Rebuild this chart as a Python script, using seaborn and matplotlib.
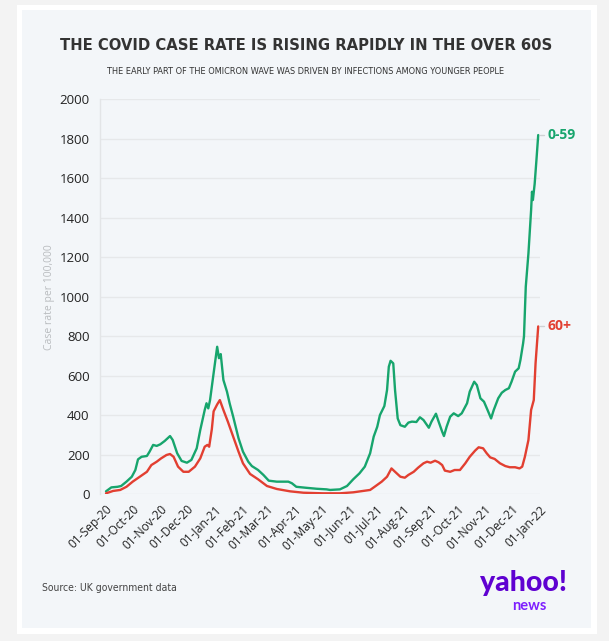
import matplotlib
matplotlib.use("Agg")
import matplotlib.pyplot as plt
import matplotlib.dates as mdates
from matplotlib.patches import Rectangle
import pandas as pd
import seaborn as sns

# ---------------- data ----------------
dates_young = [
    "2020-09-01", "2020-09-07", "2020-09-14", "2020-09-18", "2020-09-24", "2020-09-30",
    "2020-10-04", "2020-10-07", "2020-10-11", "2020-10-17", "2020-10-20", "2020-10-24",
    "2020-10-28", "2020-11-01", "2020-11-06", "2020-11-12", "2020-11-15", "2020-11-20",
    "2020-11-25", "2020-12-01", "2020-12-06", "2020-12-12", "2020-12-16", "2020-12-21",
    "2020-12-23", "2020-12-25", "2020-12-27", "2020-12-31", "2021-01-04", "2021-01-06",
    "2021-01-08", "2021-01-11", "2021-01-15", "2021-01-18", "2021-01-22", "2021-01-28",
    "2021-02-02", "2021-02-08", "2021-02-12", "2021-02-19", "2021-02-25", "2021-03-03",
    "2021-03-12", "2021-03-25", "2021-03-29", "2021-04-03", "2021-04-14", "2021-04-26",
    "2021-05-07", "2021-05-11", "2021-05-22", "2021-05-30", "2021-06-06", "2021-06-13",
    "2021-06-19", "2021-06-25", "2021-06-29", "2021-07-03", "2021-07-06", "2021-07-11",
    "2021-07-14", "2021-07-16", "2021-07-18", "2021-07-21", "2021-07-23", "2021-07-26",
    "2021-07-29", "2021-08-03", "2021-08-07", "2021-08-11", "2021-08-16", "2021-08-20",
    "2021-08-24", "2021-08-30", "2021-09-02", "2021-09-07", "2021-09-10", "2021-09-14",
    "2021-09-16", "2021-09-19", "2021-09-23", "2021-09-27", "2021-10-02", "2021-10-06",
    "2021-10-12", "2021-10-15", "2021-10-20", "2021-10-23", "2021-10-27", "2021-10-31",
    "2021-11-04", "2021-11-08", "2021-11-11", "2021-11-16", "2021-11-20", "2021-11-24",
    "2021-11-28", "2021-12-01", "2021-12-05", "2021-12-09", "2021-12-11", "2021-12-14",
    "2021-12-15", "2021-12-17", "2021-12-20", "2021-12-23", "2021-12-24", "2021-12-25",
    "2021-12-27", "2021-12-29", "2021-12-31",
]
rate_young = [
    15, 35, 38, 42, 64, 89,
    123, 177, 190, 194, 216, 250,
    245, 253, 270, 295, 275, 208,
    169, 160, 174, 233, 326, 427,
    461, 435, 477, 613, 747, 689,
    710, 579, 520, 461, 393, 284,
    216, 165, 143, 123, 98, 69,
    64, 64, 56, 38, 33, 28,
    25, 22, 25, 42, 76, 106,
    140, 208, 292, 342, 401, 447,
    528, 646, 676, 663, 528, 384,
    350, 342, 363, 368, 366, 390,
    376, 337, 368, 408, 368, 317,
    295, 342, 393, 410, 396, 410,
    461, 520, 570, 553, 486, 469,
    427, 384, 427, 486, 514, 528,
    537, 570, 621, 638, 680, 764,
    800, 1051, 1220, 1439, 1532, 1490,
    1572, 1693, 1819,
]

dates_old = [
    "2020-09-01", "2020-09-09", "2020-09-17", "2020-09-24", "2020-10-01", "2020-10-09",
    "2020-10-17", "2020-10-22", "2020-10-28", "2020-11-02", "2020-11-08", "2020-11-12",
    "2020-11-16", "2020-11-21", "2020-11-27", "2020-12-03", "2020-12-10", "2020-12-16",
    "2020-12-21", "2020-12-24", "2020-12-26", "2020-12-29", "2020-12-31", "2021-01-04",
    "2021-01-07", "2021-01-11", "2021-01-16", "2021-01-22", "2021-01-28", "2021-02-02",
    "2021-02-10", "2021-02-19", "2021-03-01", "2021-03-12", "2021-03-27", "2021-04-11",
    "2021-05-03", "2021-05-22", "2021-06-06", "2021-06-25", "2021-06-30", "2021-07-08",
    "2021-07-14", "2021-07-19", "2021-07-23", "2021-07-29", "2021-08-03", "2021-08-07",
    "2021-08-13", "2021-08-18", "2021-08-24", "2021-08-28", "2021-09-01", "2021-09-06",
    "2021-09-10", "2021-09-14", "2021-09-17", "2021-09-23", "2021-09-28", "2021-10-04",
    "2021-10-10", "2021-10-15", "2021-10-21", "2021-10-25", "2021-10-30", "2021-11-03",
    "2021-11-07", "2021-11-12", "2021-11-18", "2021-11-24", "2021-11-29", "2021-12-05",
    "2021-12-10", "2021-12-13", "2021-12-16", "2021-12-20", "2021-12-23", "2021-12-26",
    "2021-12-28", "2021-12-31",
]
rate_old = [
    5, 17, 22, 38, 64, 89,
    114, 148, 165, 182, 199, 204,
    190, 140, 114, 114, 140, 182,
    241, 250, 241, 330, 420, 455,
    477, 427, 368, 292, 216, 157,
    103, 76, 42, 27, 15, 8,
    5, 5, 10, 22, 38, 64,
    89, 131, 114, 89, 84, 98,
    114, 135, 157, 165, 160, 170,
    162, 148, 120, 114, 123, 123,
    157, 190, 221, 238, 233, 208,
    187, 179, 157, 143, 137, 137,
    131, 140, 190, 275, 427, 477,
    663, 850,
]

series_labels = ["0-59", "60+"]
y_ticks = [0, 200, 400, 600, 800, 1000, 1200, 1400, 1600, 1800, 2000]
title = "THE COVID CASE RATE IS RISING RAPIDLY IN THE OVER 60S"
subtitle = "THE EARLY PART OF THE OMICRON WAVE WAS DRIVEN BY INFECTIONS AMONG YOUNGER PEOPLE"
y_label = "Case rate per 100,000"
source = "Source: UK government data"

GREEN = "#17a56d"
RED = "#e23f31"

df = pd.concat([
    pd.DataFrame({"date": pd.to_datetime(dates_young), "rate": rate_young, "age": series_labels[0]}),
    pd.DataFrame({"date": pd.to_datetime(dates_old), "rate": rate_old, "age": series_labels[1]}),
], ignore_index=True)

# ---------------- figure ----------------
sns.set_style("white")
plt.rcParams["font.family"] = ["Open Sans", "DejaVu Sans"]

W, H = 609, 641
fig = plt.figure(figsize=(W / 100, H / 100), dpi=100, facecolor="#f3f3f3")

def px_rect(x0, y0, x1, y1, color, z):
    fig.patches.append(Rectangle((x0 / W, 1 - y1 / H), (x1 - x0) / W, (y1 - y0) / H,
                                 transform=fig.transFigure, facecolor=color,
                                 edgecolor="none", zorder=z))

px_rect(17, 5, 597, 634, "white", -2)
px_rect(22, 10, 591, 628, "#f3f6f9", -1)

ax = fig.add_axes([100 / W, 1 - 494.3 / H, 440 / W, (494.3 - 99.3) / H])
ax.set_zorder(2)
ax.set_facecolor("none")

sns.lineplot(data=df, x="date", y="rate", hue="age", palette=[GREEN, RED],
             linewidth=1.7, legend=False, ax=ax, estimator=None)

ax.set_ylim(0, 2000)
ax.set_xlim(pd.Timestamp("2020-08-25 06:00"), pd.Timestamp("2022-01-02"))
ax.set_yticks(y_ticks)
ax.xaxis.set_major_locator(mdates.MonthLocator())
ax.xaxis.set_major_formatter(mdates.DateFormatter("%d-%b-%y"))

ax.grid(axis="y", color="#e6e8ea", linewidth=1)
ax.set_axisbelow(True)
for s in ["top", "right", "bottom"]:
    ax.spines[s].set_visible(False)
ax.spines["left"].set_color("#e3e5e7")
ax.spines["left"].set_linewidth(1)

ax.tick_params(axis="both", colors="#cfd2d4", length=4, width=1, labelcolor="#222222")
ax.tick_params(axis="y", labelsize=9.5)
ax.tick_params(axis="x", labelsize=8.6, pad=2)
for lab in ax.get_xticklabels():
    lab.set_rotation(45)
    lab.set_ha("right")
    lab.set_rotation_mode("anchor")
ax.set_xlabel("")
ax.set_ylabel(y_label, color="#b9bcbf", fontsize=7.5)
ax.yaxis.set_label_coords(-0.102, 0.5)

# end labels with small leader dashes
clip = Rectangle((0, 0), 572 / W, 1, transform=fig.transFigure)
for vals, lbl, col in [(rate_young, series_labels[0], GREEN), (rate_old, series_labels[1], RED)]:
    yv = vals[-1]
    ax.plot([1.0, 1.01], [yv, yv], transform=ax.get_yaxis_transform(), color="#cfd2d4",
            lw=1, clip_on=False)
    t = ax.text(1.016, yv, lbl, transform=ax.get_yaxis_transform(), color=col,
                fontsize=10, fontweight="bold", va="center", ha="left", clip_on=False)
    t.set_clip_path(clip)

# titles: fit widths to the reference
cond = dict(family=["DejaVu Sans", "Noto Sans"], fontstretch="condensed")
t_title = fig.text(306 / W, 1 - 45 / H, title, ha="center", va="center", fontsize=17.5,
                   fontweight="bold", color="#333333", **cond)
t_sub = fig.text(306 / W, 1 - 72 / H, subtitle, ha="center", va="center", fontsize=8,
                 color="#333333", **cond)
fig.canvas.draw()
r = fig.canvas.get_renderer()
for t, target in [(t_title, 491), (t_sub, 397)]:
    w = t.get_window_extent(r).width
    t.set_fontsize(t.get_fontsize() * target / w)

fig.text(42 / W, 1 - 588 / H, source, ha="left", va="center", fontsize=7.5,
         color="#444444", **cond)

# yahoo news logo as text
fig.text(523 / W, 1 - 583 / H, "yahoo!", ha="center", va="center", fontsize=20.5,
         fontweight="black", color="#5f01d1", family=["Lato", "DejaVu Sans"])
fig.text(529 / W, 1 - 606 / H, "news", ha="center", va="center", fontsize=10.5,
         fontweight="bold", color="#7e1fff", family=["Lato", "DejaVu Sans"])

fig.savefig("out.png", dpi=100, facecolor=fig.get_facecolor())
